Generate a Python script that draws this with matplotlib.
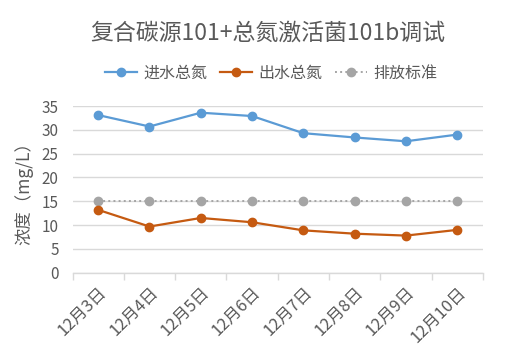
import numpy as np
import matplotlib.pyplot as plt
from matplotlib.ticker import FixedLocator

plt.rcParams['font.family'] = ['Noto Sans CJK SC', 'DejaVu Sans']

# data
dates = ['12月3日', '12月4日', '12月5日', '12月6日', '12月7日', '12月8日', '12月9日', '12月10日']
inflow = [33.1, 30.7, 33.6, 32.9, 29.3, 28.4, 27.6, 29.0]
outflow = [13.2, 9.7, 11.5, 10.6, 8.9, 8.2, 7.8, 9.0]
standard = [15, 15, 15, 15, 15, 15, 15, 15]

txt = '#595959'
grid = '#D9D9D9'

fig = plt.figure(figsize=(5.22, 3.57), dpi=100)
ax = fig.add_axes([0.139, 0.236, 0.786, 0.467])

x = np.arange(len(dates))
ax.plot(x, inflow, '-o', color='#5B9BD5', lw=1.6, ms=6, label='进水总氮', zorder=3)
ax.plot(x, outflow, '-o', color='#C55A11', lw=1.6, ms=6, label='出水总氮', zorder=3)
ax.plot(x, standard, ':o', color='#A5A5A5', lw=1.4, ms=6, label='排放标准', zorder=2)

ax.set_xlim(-0.5, len(dates) - 0.5)
ax.set_ylim(0, 35)
ax.set_yticks(np.arange(0, 36, 5))
ax.yaxis.grid(True, color=grid, lw=1)
ax.set_axisbelow(True)

ax.set_xticks(x)
ax.set_xticklabels(dates, rotation=45, ha='right', va='top', rotation_mode='anchor',
                   fontsize=12, color=txt)
ax.xaxis.set_minor_locator(FixedLocator(np.arange(-0.5, len(dates), 1)))
ax.tick_params(axis='x', which='major', length=0, pad=8)
ax.tick_params(axis='x', which='minor', length=5, color=grid, width=1)
ax.tick_params(axis='y', length=0, labelsize=11, labelcolor=txt, pad=10)

for s in ['top', 'right', 'left']:
    ax.spines[s].set_visible(False)
ax.spines['bottom'].set_color(grid)
ax.spines['bottom'].set_linewidth(1)

ax.set_ylabel('浓度（mg/L）', fontsize=12.5, color=txt, labelpad=6)

fig.text(0.513, 0.908, '复合碳源101+总氮激活菌101b调试', ha='center', va='center',
         fontsize=16.5, color=txt)
fig.legend(loc='center', bbox_to_anchor=(0.52, 0.795), ncol=3, frameon=False,
           fontsize=11.5, labelcolor=txt, handlelength=2.0, columnspacing=0.8,
           handletextpad=0.4)

fig.savefig('out.png', dpi=100)
